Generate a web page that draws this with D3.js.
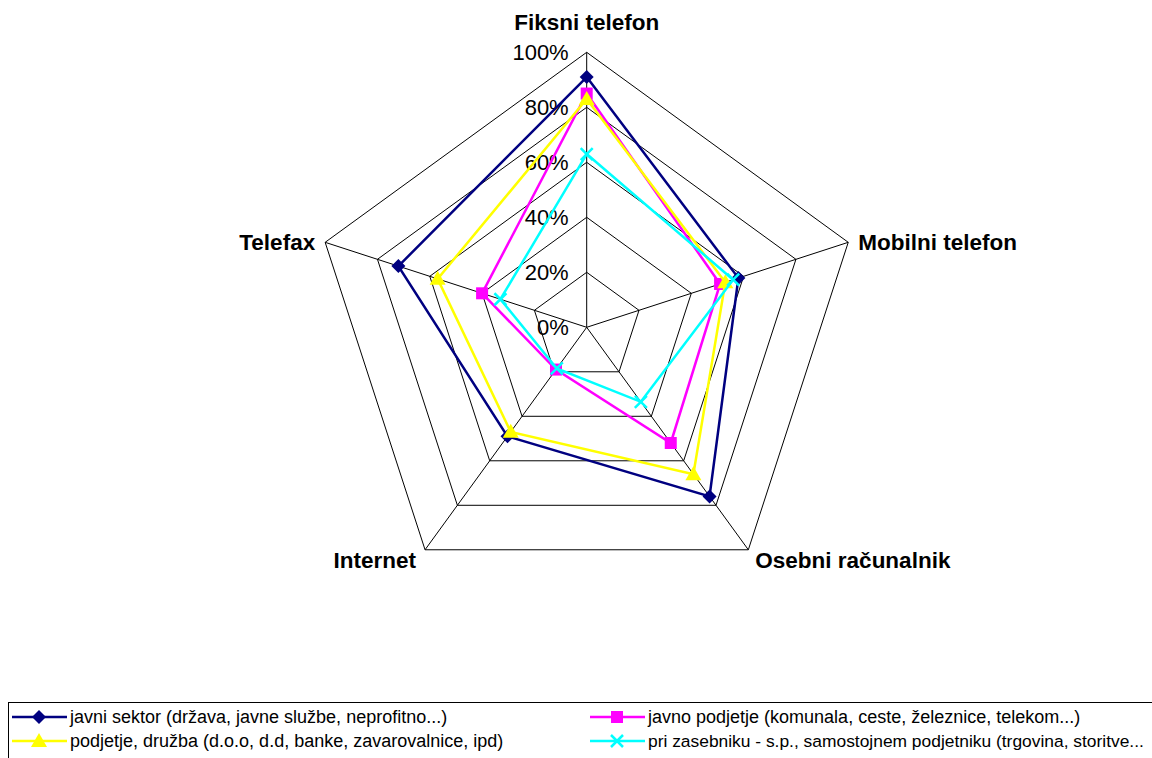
<!DOCTYPE html>
<html lang="sl">
<head>
    <meta charset="UTF-8">
    <title>Radar chart</title>
    <script src="https://cdnjs.cloudflare.com/ajax/libs/d3/7.8.5/d3.min.js"></script>
    <style>
        body {
            margin: 0;
            background: #fff;
            font-family: Arial, "Liberation Sans", sans-serif;
        }
        svg { display: block; }
    </style>
</head>
<body>
    <div id="chart"></div>

    <script>
        // Data (share in %)
        const axes = ["Fiksni telefon", "Mobilni telefon", "Osebni računalnik", "Internet", "Telefax"];
        const seriesNames = [
            "javni sektor (država, javne službe, neprofitno...)",
            "javno podjetje (komunala, ceste, železnice, telekom...)",
            "podjetje, družba (d.o.o, d.d, banke, zavarovalnice, ipd)",
            "pri zasebniku - s.p., samostojnem podjetniku (trgovina, storitve..."
        ];
        const javniSektor = [91, 58, 76, 49, 72];
        const javnoPodjetje = [85, 51, 52, 19, 40];
        const podjetje = [83, 53, 66, 47, 57];
        const zasebnik = [63, 56, 33.5, 18.5, 33];
        const tickValues = [0, 20, 40, 60, 80, 100];

        const colors = ["#000080", "#ff00ff", "#ffff00", "#00ffff"];
        const markers = ["diamond", "square", "triangle", "cross"];
        const seriesValues = [javniSektor, javnoPodjetje, podjetje, zasebnik];

        const width = 1152, height = 758;
        const cx = 586.7, cy = 327.3, R = 275;

        const svg = d3.select("#chart").append("svg")
            .attr("width", width)
            .attr("height", height);

        const r = d3.scaleLinear().domain([0, 100]).range([0, R]);
        const angle = i => i * 2 * Math.PI / axes.length;
        const pt = (i, v) => [cx + r(v) * Math.sin(angle(i)), cy - r(v) * Math.cos(angle(i))];

        // grid rings
        const grid = svg.append("g");
        tickValues.slice(1).forEach(t => {
            grid.append("polygon")
                .attr("points", axes.map((a, i) => pt(i, t).join(",")).join(" "))
                .attr("fill", "none")
                .attr("stroke", "#000")
                .attr("stroke-width", 1);
        });
        axes.forEach((a, i) => {
            const [x, y] = pt(i, 100);
            grid.append("line")
                .attr("x1", cx).attr("y1", cy)
                .attr("x2", x).attr("y2", y)
                .attr("stroke", "#000")
                .attr("stroke-width", 1);
        });

        // tick labels
        svg.append("g").selectAll("text")
            .data(tickValues)
            .enter().append("text")
            .attr("x", cx - 18)
            .attr("y", d => cy - r(d))
            .attr("dy", "0.36em")
            .attr("text-anchor", "end")
            .attr("font-size", 22)
            .attr("fill", "#000")
            .text(d => d + "%");

        // axis labels
        const labelPos = [
            { dx: 0, dy: -30, anchor: "middle" },
            { dx: 10, dy: 0, anchor: "start" },
            { dx: 7, dy: 10, anchor: "start" },
            { dx: -9, dy: 10, anchor: "end" },
            { dx: -10, dy: 0, anchor: "end" }
        ];
        axes.forEach((a, i) => {
            const [x, y] = pt(i, 100);
            svg.append("text")
                .attr("x", x + labelPos[i].dx)
                .attr("y", y + labelPos[i].dy)
                .attr("dy", "0.36em")
                .attr("text-anchor", labelPos[i].anchor)
                .attr("font-size", 22.5)
                .attr("font-weight", "bold")
                .text(a);
        });

        // marker drawing
        function drawMarker(g, type, x, y, color) {
            if (type === "diamond") {
                g.append("path")
                    .attr("d", `M${x},${y - 7}L${x + 7},${y}L${x},${y + 7}L${x - 7},${y}Z`)
                    .attr("fill", color);
            } else if (type === "square") {
                g.append("rect")
                    .attr("x", x - 6).attr("y", y - 6)
                    .attr("width", 12).attr("height", 12)
                    .attr("fill", color);
            } else if (type === "triangle") {
                g.append("path")
                    .attr("d", `M${x},${y - 8}L${x + 8},${y + 6}L${x - 8},${y + 6}Z`)
                    .attr("fill", color);
            } else {
                g.append("path")
                    .attr("d", `M${x - 6},${y - 6}L${x + 6},${y + 6}M${x - 6},${y + 6}L${x + 6},${y - 6}`)
                    .attr("stroke", color)
                    .attr("stroke-width", 2.5)
                    .attr("fill", "none");
            }
        }

        // series
        const line = d3.line().curve(d3.curveLinearClosed);
        seriesValues.forEach((vals, s) => {
            const g = svg.append("g");
            const pts = vals.map((v, i) => pt(i, v));
            g.append("path")
                .attr("d", line(pts))
                .attr("fill", "none")
                .attr("stroke", colors[s])
                .attr("stroke-width", 2.5);
            pts.forEach(p => drawMarker(g, markers[s], p[0], p[1], colors[s]));
        });

        // legend
        const legend = svg.append("g");
        legend.append("rect")
            .attr("x", 8.5).attr("y", 702.5)
            .attr("width", 1160).attr("height", 80)
            .attr("fill", "none")
            .attr("stroke", "#000")
            .attr("stroke-width", 1);
        const legPos = [[12, 717], [590, 717], [12, 741], [590, 741]];
        seriesNames.forEach((name, s) => {
            const [x, y] = legPos[s];
            const g = legend.append("g");
            g.append("line")
                .attr("x1", x).attr("x2", x + 55)
                .attr("y1", y).attr("y2", y)
                .attr("stroke", colors[s])
                .attr("stroke-width", 2.5);
            drawMarker(g, markers[s], x + 27, y, colors[s]);
            g.append("text")
                .attr("x", x + 58)
                .attr("y", y)
                .attr("dy", "0.36em")
                .attr("font-size", s === 3 ? 17.4 : 18)
                .text(name);
        });
    </script>
</body>
</html>
